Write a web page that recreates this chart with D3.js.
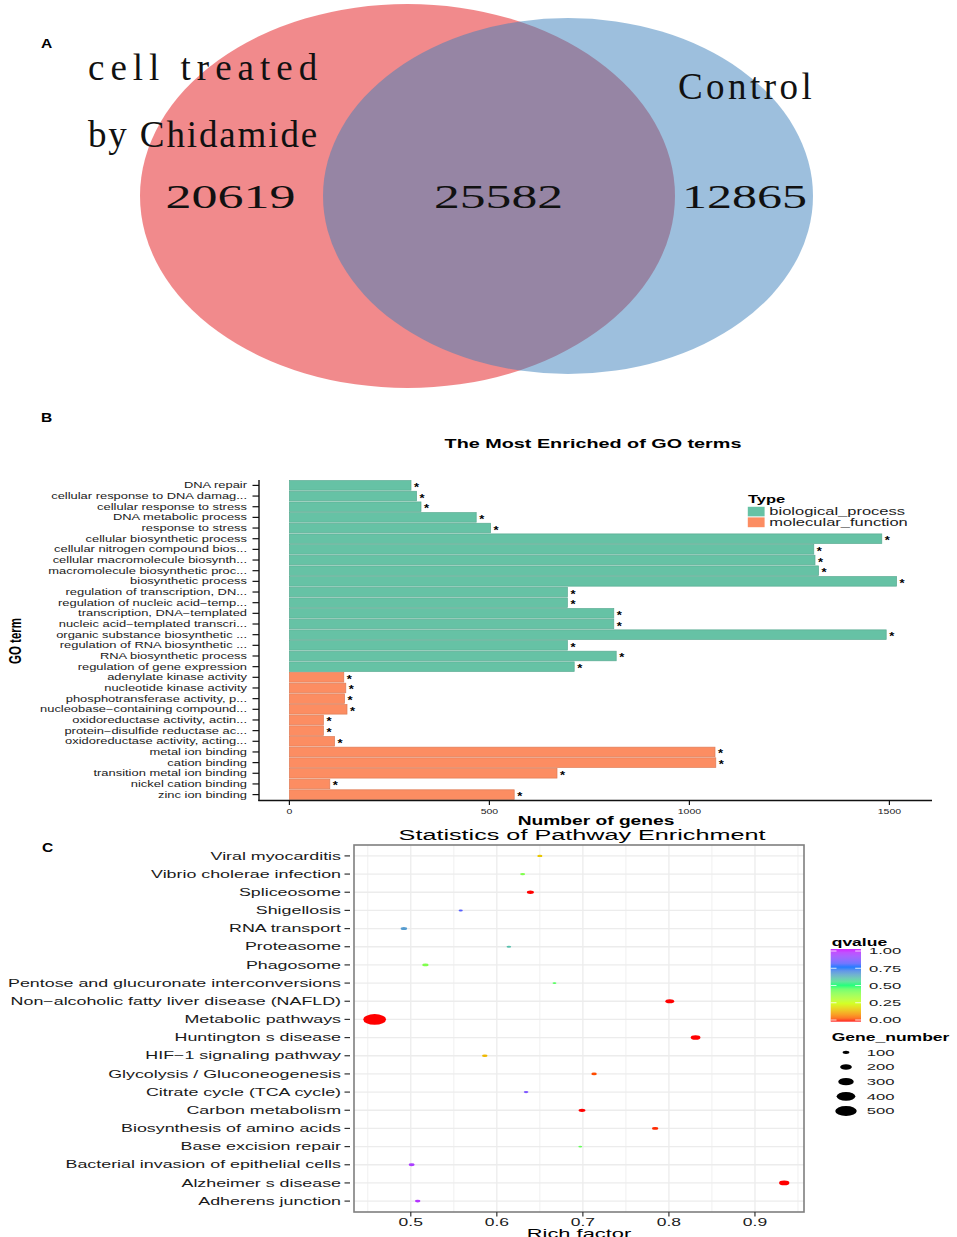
<!DOCTYPE html>
<html>
<head>
<meta charset="utf-8">
<script src="https://cdn.jsdelivr.net/npm/d3@7"></script>
<style>
  body { margin: 0; background: #fff; }
  svg { font-family: "Liberation Sans", Arial, sans-serif; }
</style>
</head>
<body>
<svg id="fig" width="957" height="1237"></svg>
<script>
// ---------- panel A : venn ----------
const vennSetLines = [["cell treated", "by Chidamide"], ["Control"]];
const vennCounts = [20619, 25582, 12865];

// ---------- panel B : GO terms ----------
const goTerms = [
  "DNA repair", "cellular response to DNA damag...", "cellular response to stress",
  "DNA metabolic process", "response to stress", "cellular biosynthetic process",
  "cellular nitrogen compound bios...", "cellular macromolecule biosynth...",
  "macromolecule biosynthetic proc...", "biosynthetic process",
  "regulation of transcription, DN...", "regulation of nucleic acid\u2212temp...",
  "transcription, DNA\u2212templated", "nucleic acid\u2212templated transcri...",
  "organic substance biosynthetic ...", "regulation of RNA biosynthetic ...",
  "RNA biosynthetic process", "regulation of gene expression",
  "adenylate kinase activity", "nucleotide kinase activity",
  "phosphotransferase activity, p...", "nucleobase\u2212containing compound...",
  "oxidoreductase activity, actin...", "protein\u2212disulfide reductase ac...",
  "oxidoreductase activity, acting...", "metal ion binding", "cation binding",
  "transition metal ion binding", "nickel cation binding", "zinc ion binding"
];
const goCounts = [304, 318, 329, 467, 503, 1481, 1311, 1314, 1323, 1518,
                  695, 695, 811, 811, 1492, 695, 817, 712,
                  136, 141, 138, 144, 85, 85, 113, 1064, 1066, 669, 101, 562];
const goTypes = ["biological_process", "biological_process", "biological_process",
  "biological_process", "biological_process", "biological_process",
  "biological_process", "biological_process", "biological_process",
  "biological_process", "biological_process", "biological_process",
  "biological_process", "biological_process", "biological_process",
  "biological_process", "biological_process", "biological_process",
  "molecular_function", "molecular_function", "molecular_function",
  "molecular_function", "molecular_function", "molecular_function",
  "molecular_function", "molecular_function", "molecular_function",
  "molecular_function", "molecular_function", "molecular_function"];
const typeNames = ["biological_process", "molecular_function"];
const typeColors = ["#66c2a5", "#fc8d62"];
const goTicks = [0, 500, 1000, 1500];

// ---------- panel C : KEGG pathways ----------
const pathways = [
  "Viral myocarditis", "Vibrio cholerae infection", "Spliceosome", "Shigellosis",
  "RNA transport", "Proteasome", "Phagosome", "Pentose and glucuronate interconversions",
  "Non\u2212alcoholic fatty liver disease (NAFLD)", "Metabolic pathways",
  "Huntington s disease", "HIF\u22121 signaling pathway", "Glycolysis / Gluconeogenesis",
  "Citrate cycle (TCA cycle)", "Carbon metabolism", "Biosynthesis of amino acids",
  "Base excision repair", "Bacterial invasion of epithelial cells",
  "Alzheimer s disease", "Adherens junction"
];
const richFactor = [0.650, 0.630, 0.639, 0.558, 0.492, 0.614, 0.517, 0.667, 0.801, 0.458,
                    0.831, 0.586, 0.713, 0.634, 0.699, 0.784, 0.697, 0.501, 0.934, 0.508];
const qValues = [0.17, 0.40, 0.0, 0.80, 0.66, 0.60, 0.40, 0.46, 0.0, 0.0,
                 0.0, 0.15, 0.03, 0.85, 0.0, 0.01, 0.44, 0.93, 0.0, 0.95];
const geneNumber = [75, 72, 105, 62, 95, 68, 90, 58, 138, 550,
                    155, 80, 80, 68, 102, 90, 58, 88, 168, 80];
const richTicks = [0.5, 0.6, 0.7, 0.8, 0.9];
const qTicks = [0, 0.25, 0.5, 0.75, 1];
const sizeTicks = [100, 200, 300, 400, 500];
const rainbowColors = ["#FF0000", "#CCFF00", "#00FF66", "#0066FF", "#CC00FF"];

const svg = d3.select("#fig");
svg.append("rect").attr("width", 957).attr("height", 1237).attr("fill", "#fff");

// the published figure is stretched sideways, so text gets a horizontal scale
function stretchX(sel, sx, rot) {
    sel.each(function () {
        let t = d3.select(this);
        let x = +t.attr("x") || 0, y = +t.attr("y") || 0;
        t.attr("x", 0).attr("y", 0)
            .attr("transform", "translate(" + x + "," + y + ") scale(" + sx + ",1)" + (rot ? " rotate(" + rot + ")" : ""));
    });
}

// panel letters
let letters = svg.append("g").selectAll("text")
    .data([["A", 41, 48], ["B", 41, 422], ["C", 42, 852]])
    .enter().append("text")
    .attr("x", d => d[1]).attr("y", d => d[2])
    .attr("font-size", 13).attr("font-weight", "bold")
    .text(d => d[0]);
stretchX(letters, 1.2);

// ================= Panel A =================
const gA = svg.append("g");
gA.append("ellipse")
    .attr("cx", 407.5).attr("cy", 196).attr("rx", 267.5).attr("ry", 192)
    .attr("fill", "rgb(227,21,25)").attr("fill-opacity", 0.5);
gA.append("ellipse")
    .attr("cx", 568).attr("cy", 196).attr("rx", 245).attr("ry", 178)
    .attr("fill", "rgb(59,127,187)").attr("fill-opacity", 0.5);

let setLabelPos = [[[88, 80], [88, 147]], [[678, 99]]];
vennSetLines.forEach(function (lines, i) {
    lines.forEach(function (line, j) {
        gA.append("text")
            .attr("x", setLabelPos[i][j][0]).attr("y", setLabelPos[i][j][1])
            .style("font-family", "'Liberation Serif', 'DejaVu Serif', serif")
            .attr("font-size", 37)
            .attr("textLength", line.length * 19.1)
            .attr("lengthAdjust", "spacing")
            .attr("fill", "#111")
            .text(line);
    });
});
let countPos = [[165.6, 130], [434, 129], [682, 125]];
gA.selectAll("text.count")
    .data(vennCounts)
    .enter().append("text")
    .attr("class", "count")
    .attr("x", (d, i) => countPos[i][0]).attr("y", 208)
    .style("font-family", "'Liberation Serif', 'DejaVu Serif', serif")
    .attr("font-size", 34)
    .attr("textLength", (d, i) => countPos[i][1])
    .attr("lengthAdjust", "spacingAndGlyphs")
    .attr("fill", "#111")
    .text(d => d);

// ================= Panel B =================
const gB = svg.append("g");
const sxB = 1.5;
const xB = d3.scaleLinear().domain([-76, 1594]).range([259, 927]);
const yB = d3.scaleBand().domain(goTerms).range([479, 801]).paddingInner(0.1).paddingOuter(0.15);
const colB = d3.scaleOrdinal().domain(typeNames).range(typeColors);

gB.selectAll("rect.bar")
    .data(goTerms)
    .enter().append("rect")
    .attr("class", "bar")
    .attr("x", xB(0))
    .attr("y", d => yB(d))
    .attr("width", (d, i) => xB(goCounts[i]) - xB(0))
    .attr("height", yB.bandwidth())
    .attr("fill", (d, i) => colB(goTypes[i]))
    .attr("stroke", (d, i) => d3.color(colB(goTypes[i])).darker(0.35))
    .attr("stroke-width", 0.7);

let stars = gB.selectAll("text.star")
    .data(goTerms)
    .enter().append("text")
    .attr("class", "star")
    .attr("x", (d, i) => xB(goCounts[i]) + 3)
    .attr("y", d => yB(d) + yB.bandwidth() / 2 + 5.5)
    .attr("font-size", 10).attr("font-weight", "bold")
    .text("*");
stretchX(stars, 1.3);

// axes
gB.append("line").attr("x1", 259).attr("x2", 259).attr("y1", 480).attr("y2", 801)
    .attr("stroke", "#111").attr("stroke-width", 1.4);
gB.append("line").attr("x1", 258.3).attr("x2", 932).attr("y1", 800.5).attr("y2", 800.5)
    .attr("stroke", "#111").attr("stroke-width", 1.4);
gB.selectAll("line.ytick")
    .data(goTerms)
    .enter().append("line")
    .attr("x1", 252.5).attr("x2", 259)
    .attr("y1", d => yB(d) + yB.bandwidth() / 2).attr("y2", d => yB(d) + yB.bandwidth() / 2)
    .attr("stroke", "#111").attr("stroke-width", 1.2);
let yLabB = gB.selectAll("text.ylab")
    .data(goTerms)
    .enter().append("text")
    .attr("x", 247).attr("y", d => yB(d) + yB.bandwidth() / 2 + 3)
    .attr("text-anchor", "end").attr("font-size", 8.5).attr("fill", "#1a1a1a")
    .text(d => d);
stretchX(yLabB, 1.52);

gB.selectAll("line.xtick")
    .data(goTicks)
    .enter().append("line")
    .attr("x1", d => xB(d)).attr("x2", d => xB(d))
    .attr("y1", 800.5).attr("y2", 805)
    .attr("stroke", "#111").attr("stroke-width", 1.2);
let xLabB = gB.selectAll("text.xlab")
    .data(goTicks)
    .enter().append("text")
    .attr("x", d => xB(d)).attr("y", 813.5)
    .attr("text-anchor", "middle").attr("font-size", 7).attr("fill", "#1a1a1a")
    .text(d => d);
stretchX(xLabB, sxB);

let bTexts = gB.append("g");
stretchX(bTexts.append("text").attr("x", 593).attr("y", 448)
    .attr("text-anchor", "middle").attr("font-size", 13.2).attr("font-weight", "bold")
    .text("The Most Enriched of GO terms"), sxB);
stretchX(bTexts.append("text").attr("x", 596).attr("y", 825)
    .attr("text-anchor", "middle").attr("font-size", 12.8).attr("font-weight", "bold")
    .text("Number of genes"), sxB);
stretchX(bTexts.append("text").attr("x", 21).attr("y", 641)
    .attr("text-anchor", "middle").attr("font-size", 11.5).attr("font-weight", "bold")
    .text("GO term"), sxB, -90);

// legend
let legB = gB.append("g");
stretchX(legB.append("text").attr("x", 748).attr("y", 503)
    .attr("font-size", 11).attr("font-weight", "bold").text("Type"), sxB);
legB.selectAll("rect")
    .data(typeNames)
    .enter().append("rect")
    .attr("x", 747.3).attr("y", (d, i) => 506.3 + i * 10.7)
    .attr("width", 17.7).attr("height", 10.7)
    .attr("fill", d => colB(d)).attr("stroke", "#fff").attr("stroke-width", 0.8);
let legBLab = legB.selectAll("text.lab")
    .data(typeNames)
    .enter().append("text")
    .attr("class", "lab")
    .attr("x", 769.3).attr("y", (d, i) => 515.2 + i * 10.7)
    .attr("font-size", 11).attr("fill", "#1a1a1a")
    .text(d => d);
stretchX(legBLab, sxB);

// ================= Panel C =================
const gC = svg.append("g");
const sxC = 1.75;
const xC = d3.scaleLinear().domain([0.434, 0.957]).range([354, 804]);
const yC = d3.scalePoint().domain(pathways).range([845, 1212]).padding(0.6);
const colC = d3.scaleLinear().domain(qTicks).range(rainbowColors).interpolate(d3.interpolateLab);
const sizeC = d3.scaleSqrt().domain([40, 520]).range([1.2, 11]);

gC.append("rect").attr("x", 354).attr("y", 845).attr("width", 450).attr("height", 367)
    .attr("fill", "#fff");
gC.selectAll("line.vgrid")
    .data(xC.ticks(10))
    .enter().append("line")
    .attr("x1", d => xC(d)).attr("x2", d => xC(d)).attr("y1", 845).attr("y2", 1212)
    .attr("stroke", "#ececec").attr("stroke-width", d => richTicks.some(t => Math.abs(t - d) < 1e-9) ? 1.3 : 0.8);
gC.selectAll("line.hgrid")
    .data(pathways)
    .enter().append("line")
    .attr("x1", 354).attr("x2", 804).attr("y1", d => yC(d)).attr("y2", d => yC(d))
    .attr("stroke", "#ececec").attr("stroke-width", 1.3);

gC.selectAll("ellipse.dot")
    .data(pathways)
    .enter().append("ellipse")
    .attr("class", "dot")
    .attr("cx", (d, i) => xC(richFactor[i]))
    .attr("cy", d => yC(d))
    .attr("rx", (d, i) => sizeC(geneNumber[i]))
    .attr("ry", (d, i) => sizeC(geneNumber[i]) * 0.47)
    .attr("fill", (d, i) => colC(qValues[i]));

gC.append("rect").attr("x", 354).attr("y", 845).attr("width", 450).attr("height", 367)
    .attr("fill", "none").attr("stroke", "#7f7f7f").attr("stroke-width", 1.6);

gC.selectAll("line.ytickC")
    .data(pathways)
    .enter().append("line")
    .attr("x1", 344.5).attr("x2", 350).attr("y1", d => yC(d)).attr("y2", d => yC(d))
    .attr("stroke", "#333").attr("stroke-width", 1.2);
let yLabC = gC.selectAll("text.ylabC")
    .data(pathways)
    .enter().append("text")
    .attr("x", 341).attr("y", d => yC(d) + 3.6)
    .attr("text-anchor", "end").attr("font-size", 10.2).attr("fill", "#1a1a1a")
    .text(d => d);
stretchX(yLabC, sxC);

gC.selectAll("line.xtickC")
    .data(richTicks)
    .enter().append("line")
    .attr("x1", d => xC(d)).attr("x2", d => xC(d)).attr("y1", 1212).attr("y2", 1216.5)
    .attr("stroke", "#333").attr("stroke-width", 1.2);
let xLabC = gC.selectAll("text.xlabC")
    .data(richTicks)
    .enter().append("text")
    .attr("x", d => xC(d)).attr("y", 1225.5)
    .attr("text-anchor", "middle").attr("font-size", 10).attr("fill", "#1a1a1a")
    .text(d => d);
stretchX(xLabC, sxC);

stretchX(gC.append("text").attr("x", 582).attr("y", 839.5)
    .attr("text-anchor", "middle").attr("font-size", 14.4)
    .text("Statistics of Pathway Enrichment"), sxC);
stretchX(gC.append("text").attr("x", 579).attr("y", 1238)
    .attr("text-anchor", "middle").attr("font-size", 12.5)
    .text("Rich factor"), sxC);

// colour legend
let legC = gC.append("g");
let grad = svg.append("defs").append("linearGradient")
    .attr("id", "qgrad").attr("x1", 0).attr("x2", 0).attr("y1", 1).attr("y2", 0);
grad.selectAll("stop")
    .data(d3.range(0, 1.0001, 0.05))
    .enter().append("stop")
    .attr("offset", d => d)
    .attr("stop-color", d => colC(d));
const qY = d3.scaleLinear().domain([0, 1]).range([1020, 951]);
stretchX(legC.append("text").attr("x", 831.7).attr("y", 946)
    .attr("font-size", 10).attr("font-weight", "bold").text("qvalue"), sxC);
legC.append("rect").attr("x", 830.7).attr("y", 949).attr("width", 30.3).attr("height", 72.7)
    .attr("fill", "url(#qgrad)").attr("fill-opacity", 0.85);
qTicks.forEach(function (t) {
    legC.append("line").attr("x1", 830.7).attr("x2", 836.5).attr("y1", qY(t)).attr("y2", qY(t))
        .attr("stroke", "#fff").attr("stroke-width", 0.8);
    legC.append("line").attr("x1", 855.2).attr("x2", 861).attr("y1", qY(t)).attr("y2", qY(t))
        .attr("stroke", "#fff").attr("stroke-width", 0.8);
});
let qLab = legC.selectAll("text.qlab")
    .data(qTicks)
    .enter().append("text")
    .attr("x", 869).attr("y", d => qY(d) + 3.4)
    .attr("font-size", 9.5).attr("fill", "#1a1a1a")
    .text(d => d3.format(".2f")(d));
stretchX(qLab, sxC);

// size legend
const sizeY = d3.scalePoint().domain(sizeTicks).range([1052.3, 1111]);
stretchX(legC.append("text").attr("x", 831.7).attr("y", 1041)
    .attr("font-size", 10).attr("font-weight", "bold").text("Gene_number"), sxC);
legC.selectAll("ellipse.key")
    .data(sizeTicks)
    .enter().append("ellipse")
    .attr("cx", 846).attr("cy", d => sizeY(d))
    .attr("rx", d => sizeC(d)).attr("ry", d => sizeC(d) * 0.47)
    .attr("fill", "#000");
let sLab = legC.selectAll("text.slab")
    .data(sizeTicks)
    .enter().append("text")
    .attr("x", 866.7).attr("y", d => sizeY(d) + 3.4)
    .attr("font-size", 9.5).attr("fill", "#1a1a1a")
    .text(d => d);
stretchX(sLab, sxC);
</script>
</body>
</html>
